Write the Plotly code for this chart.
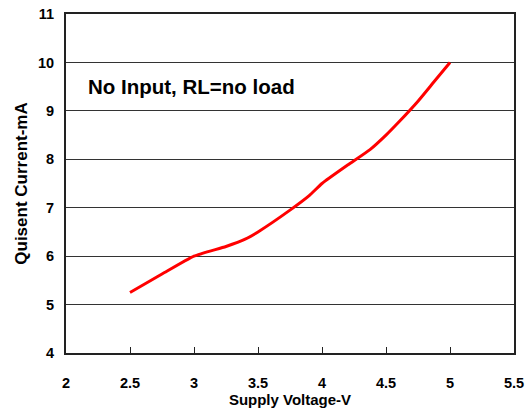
import plotly.graph_objects as go

voltage = [2.5, 2.75, 3.0, 3.25, 3.4, 3.5, 3.75, 3.9, 4.0, 4.2, 4.375, 4.5, 4.6, 4.75, 4.875, 5.0]
current = [5.25, 5.63, 6.0, 6.2, 6.35, 6.5, 6.95, 7.25, 7.5, 7.88, 8.2, 8.5, 8.77, 9.2, 9.6, 10.0]

x_ticks = [2, 2.5, 3, 3.5, 4, 4.5, 5, 5.5]
y_ticks = [4, 5, 6, 7, 8, 9, 10, 11]

FONT = "Liberation Sans, Arial, sans-serif"

fig = go.Figure()
fig.add_trace(go.Scatter(
    x=voltage, y=current, mode="lines",
    line=dict(color="#ff0000", width=3, shape="spline", smoothing=0.5),
    showlegend=False, hoverinfo="skip",
))

fig.update_layout(
    width=526, height=411,
    margin=dict(l=66, r=12, t=14, b=58),
    paper_bgcolor="white", plot_bgcolor="white",
    font=dict(family=FONT, color="black"),
    xaxis=dict(
        range=[2, 5.5], tickvals=x_ticks, ticktext=[f"{v:g}" for v in x_ticks],
        showgrid=False, zeroline=False, automargin=False,
        showline=True, linecolor="#222", linewidth=2, mirror=True,
        ticks="inside", ticklen=6, tickwidth=1.2, tickcolor="#222",
        tickfont=dict(size=14.5, family=FONT, color="black", weight="bold"),
        ticklabelstandoff=16,
        title=dict(text="<b>Supply Voltage-V</b>", font=dict(size=15, family=FONT),
                   standoff=0),
    ),
    yaxis=dict(
        range=[4, 11], tickvals=y_ticks, ticktext=[str(v) for v in y_ticks],
        showgrid=True, gridcolor="#333", gridwidth=1.2, zeroline=False, automargin=False,
        showline=True, linecolor="#222", linewidth=2, mirror=True,
        ticks="",
        tickfont=dict(size=14.5, family=FONT, color="black", weight="bold"),
        ticklabelstandoff=7,
        title=dict(text="<b>Quisent Current-mA</b>", font=dict(size=17, family=FONT),
                   standoff=6),
    ),
    annotations=[dict(
        x=2.155, y=9.5, xref="x", yref="y", xanchor="left", yanchor="middle",
        text="<b>No Input, RL=no load</b>", showarrow=False,
        font=dict(size=20.5, family=FONT, color="black"),
    )],
)

fig.write_html(
    "out.html",
    config={"displayModeBar": False},
    post_script="document.body.style.margin='0';document.body.style.overflow='hidden';",
)
